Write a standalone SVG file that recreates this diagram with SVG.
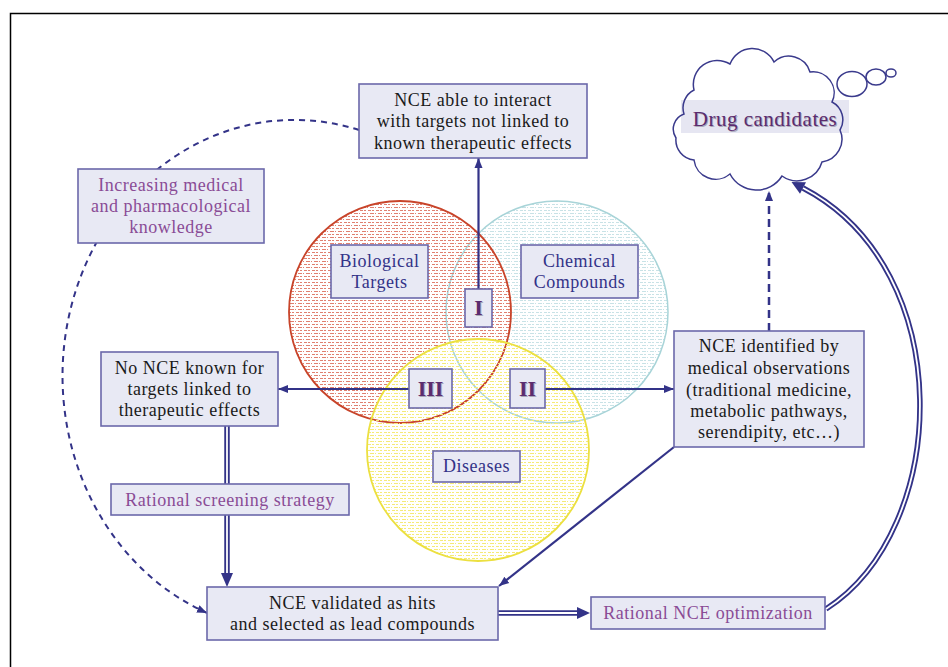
<svg xmlns="http://www.w3.org/2000/svg" width="948" height="667" viewBox="0 0 948 667">
<style>
.box{fill:#e8e9f4;stroke:#6b68aa;stroke-width:1.6}
.t{font-family:"Liberation Serif","Times New Roman",serif;font-size:18px;text-anchor:middle;letter-spacing:0.5px}
.blk{fill:#1a1a1a}
.pur{fill:#8a4c96}
.blu{fill:#333388}
.rn{font-family:"Liberation Serif",serif;font-size:22px;text-anchor:middle;font-weight:bold}
.sh{fill:#a8a8b8}
.dk{fill:#5b2c6f}
.conn{stroke:#333388;stroke-width:2.2;fill:none}
.dash{stroke:#333388;stroke-width:2;fill:none;stroke-dasharray:6 5}
.dbl{stroke:#333388;stroke-width:5.5;fill:none}
.dbli{stroke:#ffffff;stroke-width:1.8;fill:none}
.head{fill:#333388}
.cl{stroke:#3a3a8c;stroke-width:1.5}
</style>
<defs>
<pattern id="pr" width="8" height="6" patternUnits="userSpaceOnUse"><rect x="0" y="0" width="3" height="1" fill="#e08070"/><rect x="4" y="0" width="2" height="1" fill="#e08070"/><rect x="2" y="3" width="4" height="1" fill="#e08070"/><rect x="7" y="3" width="1" height="1" fill="#e08070"/></pattern>
<pattern id="pc" width="8" height="6" patternUnits="userSpaceOnUse"><rect x="0" y="0" width="3" height="1" fill="#c8e2e6"/><rect x="4" y="0" width="2" height="1" fill="#c8e2e6"/><rect x="2" y="3" width="4" height="1" fill="#c8e2e6"/><rect x="7" y="3" width="1" height="1" fill="#c8e2e6"/></pattern>
<pattern id="py" width="8" height="6" patternUnits="userSpaceOnUse"><rect x="0" y="0" width="3" height="1" fill="#f5ea78"/><rect x="4" y="0" width="2" height="1" fill="#f5ea78"/><rect x="2" y="3" width="4" height="1" fill="#f5ea78"/><rect x="7" y="3" width="1" height="1" fill="#f5ea78"/></pattern>
<marker id="ah" viewBox="0 0 10 10" refX="10" refY="5" markerWidth="10" markerHeight="10" markerUnits="userSpaceOnUse" orient="auto"><path d="M0,1 L10,5 L0,9 z" fill="#333388"/></marker>
<path id="cloudp" d="M684 114 A20 20 0 0 1 694 90 A24 24 0 0 1 730 64 A24 24 0 0 1 774 62 A22 22 0 0 1 810 72 A21 21 0 0 1 832 102 A20 20 0 0 1 840 130 A23 23 0 0 1 822 162 A26 26 0 0 1 782 176 A30 30 0 0 1 730 174 A22 22 0 0 1 694 160 A20 20 0 0 1 676 138 A16 16 0 0 1 684 114 Z"/>
</defs>
<rect width="948" height="667" fill="#ffffff"/>
<path d="M10.5 667 V13.5 H948" fill="none" stroke="#000" stroke-width="1.5"/>

<g id="circles">
<circle cx="557" cy="312" r="111" fill="url(#pc)" stroke="#a8d4d8" stroke-width="1.5"/>
<circle cx="400" cy="312" r="111" fill="url(#pr)" stroke="#c8442a" stroke-width="1.8"/>
<circle cx="478" cy="450" r="111" fill="url(#py)" stroke="#ece040" stroke-width="1.8"/>
</g>

<g id="cloud">
<use href="#cloudp" fill="#fff"/>
<rect x="681" y="100" width="168" height="33" fill="#e6e6f2"/>
<use href="#cloudp" fill="none" class="cl"/>
<ellipse class="cl" cx="852" cy="84" rx="15" ry="12.5" fill="#fff"/>
<ellipse class="cl" cx="876" cy="77" rx="10" ry="8" fill="#fff"/>
<ellipse class="cl" cx="891" cy="73" rx="5" ry="4" fill="#fff"/>
<text class="t sh" x="766" y="127" style="font-size:21px">Drug candidates</text>
<text class="t dk" x="765" y="126" style="font-size:21px">Drug candidates</text>
</g>

<g id="connectors">
<path class="dash" d="M359 130 A232 256 0 0 0 207 613" marker-end="url(#ah)"/>
<path class="conn" d="M478.5 289 L478.5 158" marker-end="url(#ah)"/>
<path class="conn" d="M409 389 L278 389" marker-end="url(#ah)"/>
<path class="conn" d="M545 389 L674 389" marker-end="url(#ah)"/>
<path class="conn" d="M674 447 L499 586" marker-end="url(#ah)"/>
<path class="dash" style="stroke-width:2.5;stroke-dasharray:8 5" d="M769 331 L769 191" marker-end="url(#ah)"/>
<path class="dbl" d="M227 426 L227 484"/>
<path class="dbli" d="M227 426 L227 484"/>
<path class="dbl" d="M227 515 L227 575"/>
<path class="dbli" d="M227 515 L227 575"/>
<polygon class="head" points="221,573 233,573 227,587"/>
<path class="dbl" d="M498 613 L578 613"/>
<path class="dbli" d="M498 613 L578 613"/>
<polygon class="head" points="577,607 577,619 590,613"/>
<path class="dbl" d="M826 609 C950 530 960 270 803 188"/>
<path class="dbli" d="M826 609 C950 530 960 270 803 188"/>
<polygon class="head" points="791.5,182 806,182.2 800,193.8"/>
</g>

<g id="n-interact">
<rect class="box" x="359" y="84" width="228" height="74"/>
<text class="t blk" x="473" y="106">NCE able to interact</text>
<text class="t blk" x="473" y="127">with targets not linked to</text>
<text class="t blk" x="473" y="149">known therapeutic effects</text>
</g>
<g id="n-knowledge">
<rect class="box" x="78" y="169" width="186" height="74"/>
<text class="t pur" x="171" y="191">Increasing medical</text>
<text class="t pur" x="171" y="212">and pharmacological</text>
<text class="t pur" x="171" y="233">knowledge</text>
</g>
<g id="n-bio">
<rect class="box" x="331" y="245" width="97" height="53"/>
<text class="t blu" x="379.5" y="267">Biological</text>
<text class="t blu" x="379.5" y="288">Targets</text>
</g>
<g id="n-chem">
<rect class="box" x="521" y="245" width="117" height="53"/>
<text class="t blu" x="579.5" y="267">Chemical</text>
<text class="t blu" x="579.5" y="288">Compounds</text>
</g>
<g id="n-dis">
<rect class="box" x="433" y="451" width="87" height="31"/>
<text class="t blu" x="476.5" y="472">Diseases</text>
</g>
<g id="n-I">
<rect class="box" x="465" y="289" width="27" height="38"/>
<text class="rn sh" x="479.5" y="316">I</text>
<text class="rn dk" x="478.5" y="315">I</text>
</g>
<g id="n-III">
<rect class="box" x="409" y="369" width="43" height="39"/>
<text class="rn sh" x="431.5" y="397">III</text>
<text class="rn dk" x="430.5" y="396">III</text>
</g>
<g id="n-II">
<rect class="box" x="510" y="369" width="35" height="39"/>
<text class="rn sh" x="528.5" y="397">II</text>
<text class="rn dk" x="527.5" y="396">II</text>
</g>
<g id="n-nonce">
<rect class="box" x="101" y="352" width="177" height="74"/>
<text class="t blk" x="189.5" y="374">No NCE known for</text>
<text class="t blk" x="189.5" y="395">targets linked to</text>
<text class="t blk" x="189.5" y="416">therapeutic effects</text>
</g>
<g id="n-medobs">
<rect class="box" x="674" y="331" width="190" height="116"/>
<text class="t blk" x="769" y="352">NCE identified by</text>
<text class="t blk" x="769" y="374">medical observations</text>
<text class="t blk" x="769" y="396">(traditional medicine,</text>
<text class="t blk" x="769" y="417">metabolic pathways,</text>
<text class="t blk" x="769" y="438">serendipity, etc…)</text>
</g>
<g id="n-screen">
<rect class="box" x="111" y="484" width="238" height="31"/>
<text class="t pur" x="230" y="506">Rational screening strategy</text>
</g>
<g id="n-valid">
<rect class="box" x="207" y="587" width="291" height="53"/>
<text class="t blk" x="352.5" y="609">NCE validated as hits</text>
<text class="t blk" x="352.5" y="630">and selected as lead compounds</text>
</g>
<g id="n-optim">
<rect class="box" x="591" y="597" width="234" height="32"/>
<text class="t pur" x="708" y="619">Rational NCE optimization</text>
</g>
</svg>
